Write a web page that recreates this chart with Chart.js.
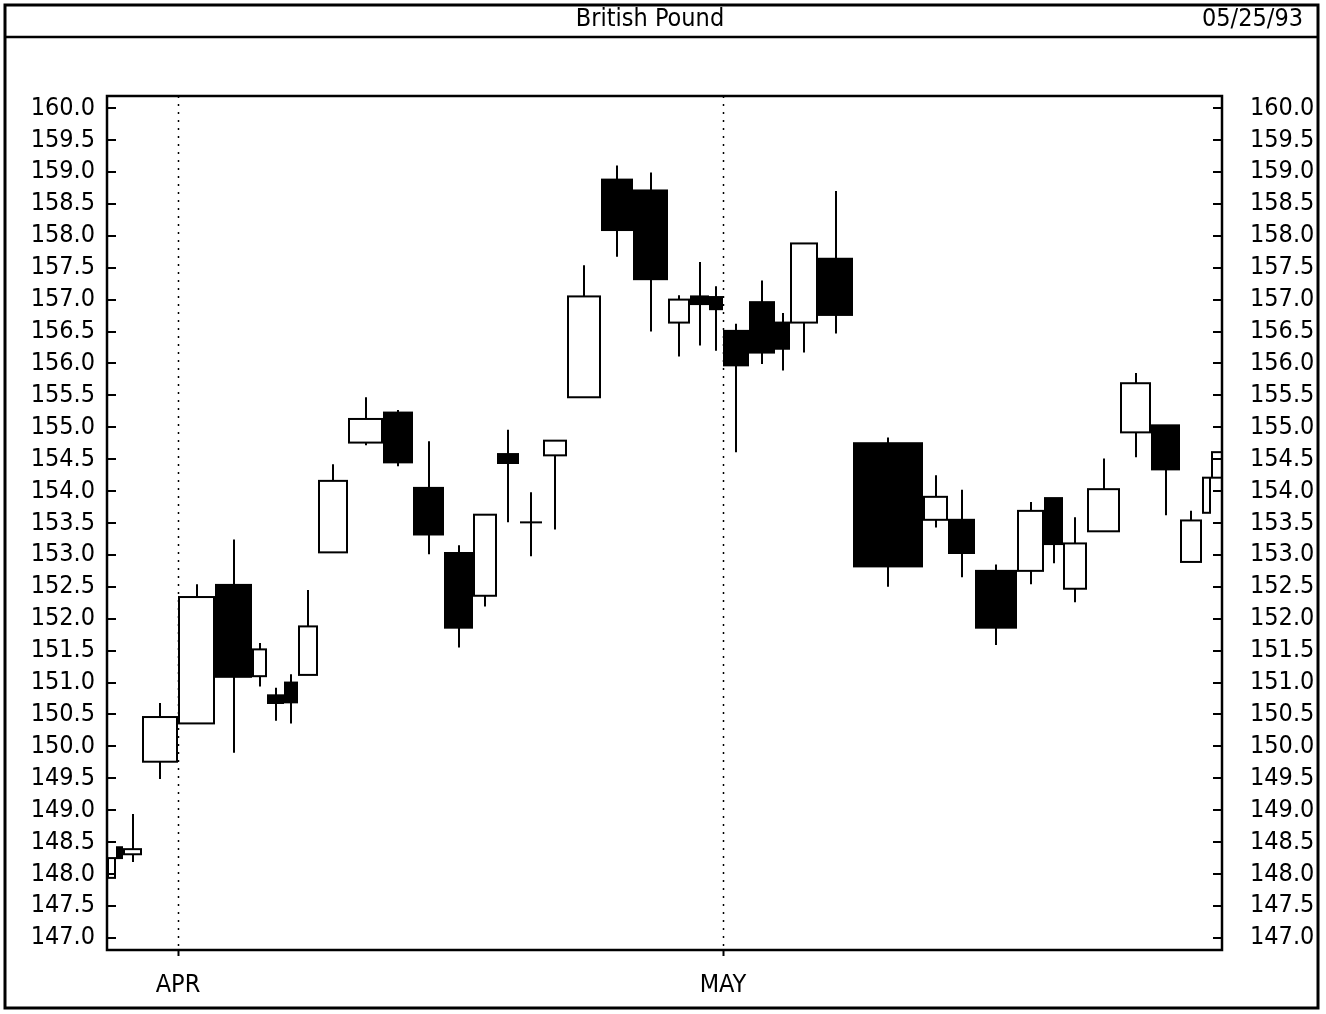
<!DOCTYPE html>
<html>
<head>
<meta charset="utf-8">
<title>British Pound</title>
<script src="https://cdn.jsdelivr.net/npm/chart.js@4.4.0/dist/chart.umd.min.js"></script>
<style>
  html, body { margin: 0; padding: 0; background: #fff; }
  #wrap { width: 1326px; height: 1014px; position: relative; }
</style>
</head>
<body>
<div id="wrap"><canvas id="chart"></canvas></div>
<script>
const chartTitle = "British Pound";
const chartDate = "05/25/93";

// equivolume chart: box width = volume of the day (arbitrary units)
const volumes = [9, 7, 19, 36, 37, 37, 15, 17, 14, 20, 30, 35, 30, 31, 29, 24, 22, 24, 24, 34, 32, 35,
                 22, 19, 14, 26, 26, 15, 28, 35, 70, 25, 27, 42, 27, 19, 24, 33, 31, 29, 22, 9, 19];
const opens  = [147.94, 148.42, 148.31, 149.76, 150.36, 152.53, 151.10, 150.80, 151.00, 151.12, 153.04,
                154.76, 155.23, 154.05, 153.03, 152.36, 154.58, 153.51, 154.56, 155.47, 158.88, 158.71,
                156.64, 157.05, 157.04, 156.51, 156.96, 156.64, 156.64, 157.64, 154.75, 153.55, 153.55,
                152.75, 152.75, 153.89, 152.47, 153.37, 154.92, 155.03, 152.89, 153.66, 154.21];
const highs  = [148.25, 148.42, 148.94, 150.68, 152.54, 153.24, 151.62, 150.92, 151.13, 152.45, 154.42,
                155.47, 155.27, 154.78, 153.15, 153.63, 154.96, 153.98, 154.79, 157.54, 159.10, 158.99,
                157.07, 157.59, 157.21, 156.62, 157.30, 156.79, 157.88, 158.70, 154.84, 154.25, 154.02,
                152.85, 153.83, 153.89, 153.59, 154.51, 155.85, 155.03, 153.69, 154.21, 154.61];
const lows   = [147.94, 148.25, 148.19, 149.49, 150.36, 149.90, 150.94, 150.40, 150.36, 151.12, 153.04,
                154.72, 154.39, 153.01, 151.55, 152.19, 153.51, 152.98, 153.40, 155.47, 157.67, 156.50,
                156.11, 156.28, 156.20, 154.61, 155.99, 155.89, 156.17, 156.47, 152.50, 153.43, 152.65,
                151.59, 152.54, 152.87, 152.26, 153.37, 154.53, 153.62, 152.89, 153.66, 154.21];
const closes = [148.25, 148.25, 148.39, 150.46, 152.34, 151.09, 151.52, 150.68, 150.69, 151.88, 154.16,
                155.13, 154.45, 153.32, 151.86, 153.63, 154.44, 153.51, 154.79, 157.05, 158.09, 157.32,
                157.00, 156.93, 156.85, 155.97, 156.17, 156.23, 157.88, 156.76, 152.82, 153.91, 153.03,
                151.86, 153.69, 153.17, 153.18, 154.03, 155.69, 154.34, 153.54, 154.21, 154.61];

const monthLabels = ["APR", "MAY"];
const monthStartIdx = [4, 25];   // first candle of each month
const priceTicks = [147.0, 147.5, 148.0, 148.5, 149.0, 149.5, 150.0, 150.5, 151.0, 151.5, 152.0, 152.5,
                    153.0, 153.5, 154.0, 154.5, 155.0, 155.5, 156.0, 156.5, 157.0, 157.5, 158.0, 158.5,
                    159.0, 159.5, 160.0];
const visibleVolume = 1115;

// running volume -> left edge of every box
const starts = [];
let acc = 0;
for (let i = 0; i < volumes.length; i++) {
    starts.push(acc);
    acc += volumes[i];
}
const monthStartVol = monthStartIdx.map(i => starts[i]);

const FONT = "'Liberation Sans Narrow', 'DejaVu Sans Condensed', sans-serif";
const tickFont = { family: FONT, size: 25 };

const equivolumePlugin = {
    id: "equivolume",
    beforeDraw(chart) {
        const ctx = chart.ctx;
        ctx.save();
        ctx.fillStyle = "#fff";
        ctx.fillRect(0, 0, chart.width, chart.height);
        ctx.restore();
    },
    afterDraw(chart) {
        const { ctx, chartArea: a, scales: { x, y } } = chart;
        ctx.save();
        ctx.strokeStyle = "#000";
        ctx.fillStyle = "#000";

        // month separators (dotted)
        ctx.lineWidth = 1.5;
        ctx.setLineDash([2, 6]);
        x.ticks.forEach(t => {
            const px = Math.round(x.getPixelForValue(t.value)) + 0.5;
            ctx.beginPath();
            ctx.moveTo(px, a.top);
            ctx.lineTo(px, a.bottom);
            ctx.stroke();
        });
        ctx.setLineDash([]);

        // candles
        ctx.save();
        ctx.beginPath();
        ctx.rect(a.left, a.top, a.right - a.left, a.bottom - a.top);
        ctx.clip();
        ctx.lineWidth = 2;
        for (let i = 0; i < volumes.length; i++) {
            const x0 = x.getPixelForValue(starts[i]);
            const x1 = x.getPixelForValue(starts[i] + volumes[i]);
            const xm = Math.round((x0 + x1) / 2);
            const yh = y.getPixelForValue(highs[i]);
            const yl = y.getPixelForValue(lows[i]);
            const yTop = y.getPixelForValue(Math.max(opens[i], closes[i]));
            const yBot = y.getPixelForValue(Math.min(opens[i], closes[i]));

            ctx.beginPath();
            ctx.moveTo(xm, yh);
            ctx.lineTo(xm, yl);
            ctx.stroke();

            if (Math.abs(opens[i] - closes[i]) < 0.005) {
                ctx.beginPath();
                ctx.moveTo(x0 + 1, yTop);
                ctx.lineTo(x1 - 1, yTop);
                ctx.stroke();
            } else if (closes[i] < opens[i]) {
                ctx.fillStyle = "#000";
                ctx.fillRect(x0, yTop, x1 - x0, yBot - yTop);
                ctx.strokeRect(x0 + 1, yTop, x1 - x0 - 2, yBot - yTop);
            } else {
                ctx.fillStyle = "#fff";
                ctx.fillRect(x0 + 1, yTop, x1 - x0 - 2, yBot - yTop);
                ctx.strokeRect(x0 + 1, yTop, x1 - x0 - 2, yBot - yTop);
            }
        }
        ctx.restore();

        // plot frame
        ctx.lineWidth = 2.5;
        ctx.strokeRect(a.left, a.top, a.right - a.left, a.bottom - a.top);

        // inward price ticks on both sides
        ctx.lineWidth = 2;
        y.ticks.forEach(t => {
            const py = Math.round(y.getPixelForValue(t.value));
            ctx.beginPath();
            ctx.moveTo(a.left, py);
            ctx.lineTo(a.left + 9, py);
            ctx.moveTo(a.right - 9, py);
            ctx.lineTo(a.right, py);
            ctx.stroke();
        });
        x.ticks.forEach(t => {
            const px = Math.round(x.getPixelForValue(t.value)) + 0.5;
            ctx.beginPath();
            ctx.moveTo(px, a.bottom);
            ctx.lineTo(px, a.bottom + 6);
            ctx.stroke();
        });

        // page frame and header strip
        ctx.lineWidth = 3;
        ctx.strokeRect(5, 5, 1313, 1003);
        ctx.lineWidth = 2.5;
        ctx.beginPath();
        ctx.moveTo(5, 37);
        ctx.lineTo(1318, 37);
        ctx.stroke();

        ctx.fillStyle = "#000";
        ctx.font = "25px " + FONT;
        ctx.textBaseline = "middle";
        ctx.textAlign = "center";
        ctx.fillText(chartTitle, 650, 19);
        ctx.textAlign = "right";
        ctx.fillText(chartDate, 1303, 19);
        ctx.restore();
    }
};

const priceAxis = (position, width, pad) => ({
    type: "linear",
    position: position,
    min: 146.81,
    max: 160.19,
    grid: { display: false, drawTicks: false },
    border: { display: false },
    afterBuildTicks: s => { s.ticks = priceTicks.map(v => ({ value: v })); },
    afterFit: s => { s.width = width; },
    ticks: {
        font: tickFont,
        color: "#000",
        padding: pad,
        autoSkip: false,
        callback: v => Number(v).toFixed(1)
    }
});

new Chart(document.getElementById("chart"), {
    type: "scatter",
    data: { datasets: [{ data: [], showLine: false }] },
    options: {
        responsive: true,
        maintainAspectRatio: false,
        animation: false,
        layout: { padding: { top: 96, left: 0, right: 0, bottom: 0 } },
        plugins: { legend: { display: false }, tooltip: { enabled: false } },
        scales: {
            x: {
                type: "linear",
                min: 0,
                max: visibleVolume,
                grid: { display: false, drawTicks: false },
                border: { display: false },
                afterBuildTicks: s => { s.ticks = monthStartVol.map(v => ({ value: v })); },
                afterFit: s => { s.height = 64; },
                ticks: {
                    font: tickFont,
                    color: "#000",
                    padding: 20,
                    autoSkip: false,
                    maxRotation: 0,
                    callback: (v, i) => monthLabels[i]
                }
            },
            y: priceAxis("left", 107, 12),
            y2: priceAxis("right", 104, 28)
        }
    },
    plugins: [equivolumePlugin]
});
</script>
</body>
</html>
